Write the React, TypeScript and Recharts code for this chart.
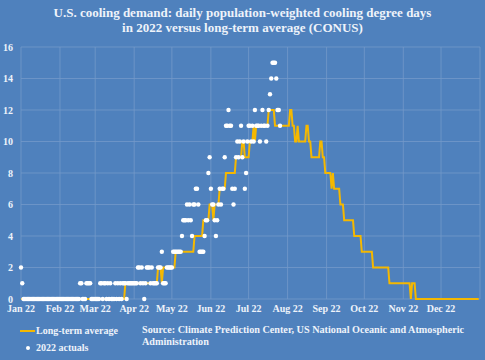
import { ComposedChart, Line, Scatter, XAxis, YAxis, CartesianGrid } from "recharts";

// month labels and the day-of-year each month starts on
const monthLabels = ["Jan 22", "Feb 22", "Mar 22", "Apr 22", "May 22", "Jun 22", "Jul 22", "Aug 22", "Sep 22", "Oct 22", "Nov 22", "Dec 22"];
const monthStarts = [0, 31, 59, 90, 120, 151, 181, 212, 243, 273, 304, 334];
const yTicks = [0, 2, 4, 6, 8, 10, 12, 14, 16];

// long-term average CDD, one value per day
const avgJan = [0,0,0,0,0,0,0,0,0,0,0,0,0,0,0,0,0,0,0,0,0,0,0,0,0,0,0,0,0,0,0];
const avgFeb = [0,0,0,0,0,0,0,0,0,0,0,0,0,0,0,0,0,0,0,0,0,0,0,0,0,0,0,0];
const avgMar = [0,0,0,0,0,0,0,0,0,0,0,0,0,0,0,0,0,0,0,0,0,0,0,0,1,1,1,1,1,1,1];
const avgApr = [1,1,1,1,1,1,1,1,1,1,1,1,1,1,1,1,1,1,1,2,2,2,1,2,2,2,2,2,2,2];
const avgMay = [2,2,2,3,3,3,3,3,3,3,3,3,3,3,3,3,3,3,4,4,4,4,4,4,4,5,5,5,5,5,6];
const avgJun = [6,6,5,6,6,6,6,7,7,7,7,7,8,8,8,8,8,8,8,8,9,9,9,9,9,10,10,9,9,9];
const avgJul = [9,10,10,10,11,10,11,11,11,11,11,11,11,11,11,11,12,12,12,12,12,11,11,11,11,11,11,11,11,11,11];
const avgAug = [11,11,12,12,11,11,10,10,11,10,10,10,10,10,10,11,11,10,10,9,9,9,9,9,9,9,10,10,9,9,8];
const avgSep = [8,8,8,8,7,8,7,7,7,7,7,6,6,6,5,5,5,5,5,5,5,5,4,4,4,4,4,4,3,3];
const avgOct = [3,3,3,3,3,3,3,2,2,2,2,2,2,2,2,2,2,2,2,2,1,1,1,1,1,1,1,1,1,1,1];
const avgNov = [1,1,1,1,1,1,0,1,1,1,0,0,0,0,0,0,0,0,0,0,0,0,0,0,0,0,0,0,0,0];
const avgDec = [0,0,0,0,0,0,0,0,0,0,0,0,0,0,0,0,0,0,0,0,0,0,0,0,0,0,0,0,0,0,0];

// 2022 actual CDD, one value per day (through late July)
const actJan = [2,1,0,0,0,0,0,0,0,0,0,0,0,0,0,0,0,0,0,0,0,0,0,0,0,0,0,0,0,0,0];
const actFeb = [0,0,0,0,0,0,0,0,0,0,0,0,0,0,0,0,1,1,0,0,0,1,1,1,1,0,0,0];
const actMar = [0,0,0,0,1,1,0,1,1,0,1,0,1,0,0,0,1,0,1,0,1,0,1,1,1,0,1,1,1,1,1];
const actApr = [1,1,1,2,2,1,2,1,0,1,2,2,2,1,2,1,1,1,1,2,2,2,3,1,1,1,2,2,2,2];
const actMay = [2,3,3,3,3,3,3,3,4,5,5,5,6,5,6,5,4,6,6,7,7,6,3,3,3,3,4,5,5,8,9];
const actJun = [7,6,6,5,4,5,6,7,6,7,7,9,11,11,12,11,11,7,6,7,9,10,9,10,11,9,10,7,8,10];
const actJul = [11,11,10,11,10,12,11,11,11,10,11,12,11,11,10,11,12,13,14,15,15,15,14,12,12,11];

const longTermAvg = [...avgJan, ...avgFeb, ...avgMar, ...avgApr, ...avgMay, ...avgJun, ...avgJul, ...avgAug, ...avgSep, ...avgOct, ...avgNov, ...avgDec];
const actual2022 = [...actJan, ...actFeb, ...actMar, ...actApr, ...actMay, ...actJun, ...actJul];

const avgData = longTermAvg.map((v, i) => ({ day: i, avg: v }));
const actualData = actual2022.map((v, i) => ({ day: i, actual: v }));

const BG = "#4f81bd";
const TEXT = "#eef3fa";
const FONT = "'Liberation Serif', 'DejaVu Serif', serif";

const Dot = (p: any) => <circle cx={p.cx} cy={p.cy} r={2.2} fill="#ffffff" />;

export default function App() {
  const tick = { fill: TEXT, fontSize: 10, fontWeight: 700, fontFamily: FONT };
  return (
    <div style={{ position: "absolute", left: 0, top: 0, width: 485, height: 360, background: BG, fontFamily: FONT, color: TEXT }}>
      <div style={{ position: "absolute", top: 5, left: 0, width: 485, textAlign: "center", fontSize: 13, fontWeight: 700, lineHeight: "15px" }}>
        U.S. cooling demand: daily population-weighted cooling degree days
        <br />
        in 2022 versus long-term average (CONUS)
      </div>
      <ComposedChart width={485} height={360} data={avgData} margin={{ top: 47, right: 5, bottom: 41, left: 0 }}>
        <CartesianGrid stroke="#7399c9" strokeWidth={0.8} />
        <XAxis
          type="number"
          dataKey="day"
          domain={[0, 365]}
          ticks={[...monthStarts, 365]}
          tickFormatter={(v: number) => monthLabels[monthStarts.indexOf(v)] ?? ""}
          interval={0}
          height={20}
          axisLine={false}
          tickLine={false}
          tickSize={4}
          tickMargin={2}
          tick={tick}
        />
        <YAxis
          type="number"
          domain={[0, 16]}
          ticks={yTicks}
          width={21}
          axisLine={false}
          tickLine={false}
          tickSize={4}
          tickMargin={4}
          tick={tick}
        />
        <Line type="linear" dataKey="avg" stroke="#f5b800" strokeWidth={2} dot={false} isAnimationActive={false} />
        <Scatter data={actualData} dataKey="actual" shape={Dot} isAnimationActive={false} />
      </ComposedChart>
      <div style={{ position: "absolute", left: 20, top: 330, width: 15, height: 2, background: "#f5b800" }} />
      <div style={{ position: "absolute", left: 36, top: 324, fontSize: 10, fontWeight: 700, lineHeight: "14px" }}>Long-term average</div>
      <div style={{ position: "absolute", left: 26, top: 346, width: 4, height: 4, borderRadius: 2, background: "#ffffff" }} />
      <div style={{ position: "absolute", left: 36, top: 341, fontSize: 10, fontWeight: 700, lineHeight: "14px" }}>2022 actuals</div>
      <div style={{ position: "absolute", left: 142, top: 324, fontSize: 10.2, fontWeight: 700, lineHeight: "12px" }}>
        Source: Climate Prediction Center, US National Oceanic and Atmospheric
        <br />
        Administration
      </div>
    </div>
  );
}
